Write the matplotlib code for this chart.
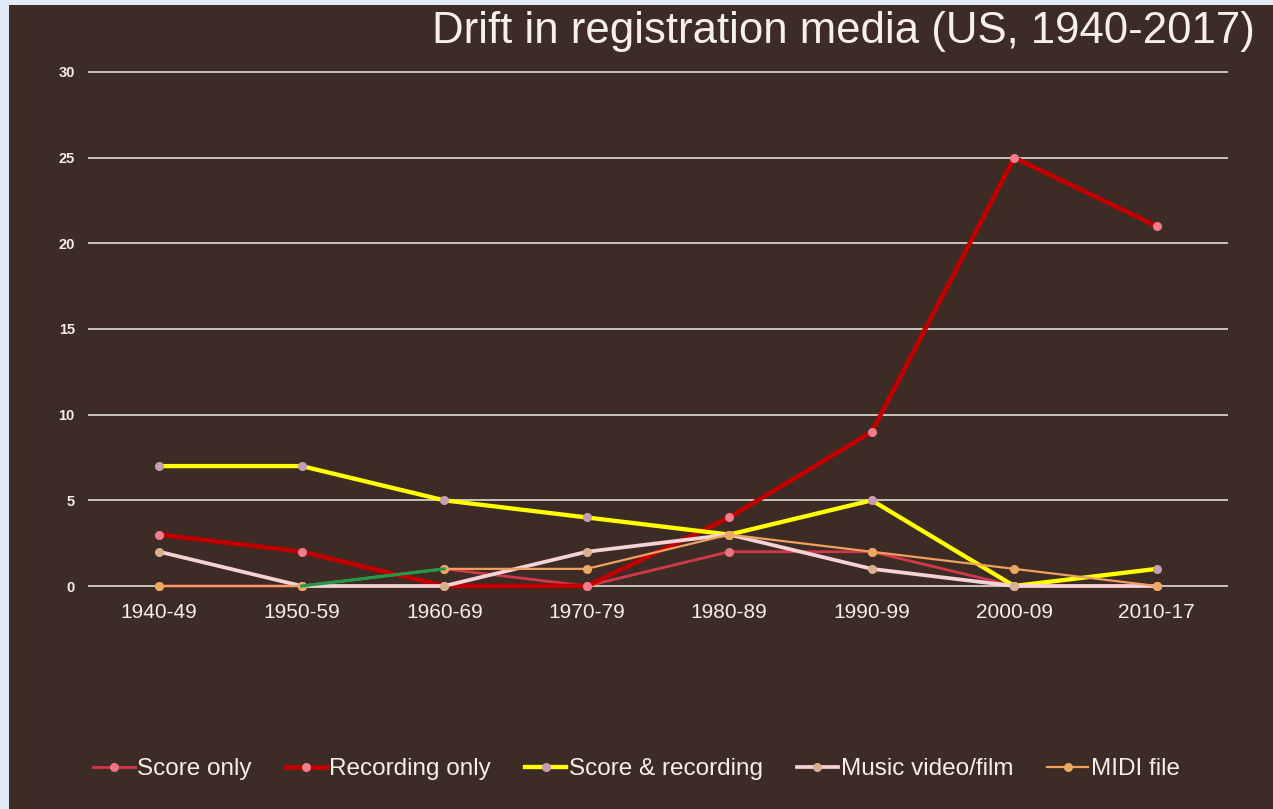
import matplotlib
matplotlib.use('Agg')
import matplotlib.pyplot as plt
from matplotlib.patches import Rectangle

# ---- data ----
decades = ['1940-49', '1950-59', '1960-69', '1970-79', '1980-89', '1990-99', '2000-09', '2010-17']
score_only = [0, 0, 1, 0, 2, 2, 0, 0]
recording_only = [3, 2, 0, 0, 4, 9, 25, 21]
score_and_recording = [7, 7, 5, 4, 3, 5, 0, 1]
music_video_film = [2, 0, 0, 2, 3, 1, 0, 0]
midi_file = [0, 0, 1, 1, 3, 2, 1, 0]
y_ticks = [0, 5, 10, 15, 20, 25, 30]
series_names = ['Score only', 'Recording only', 'Score & recording', 'Music video/film', 'MIDI file']
title = 'Drift in registration media (US, 1940-2017)'

plt.rcParams['font.family'] = ['Liberation Sans', 'DejaVu Sans']

W, H = 1273, 809
fig = plt.figure(figsize=(W / 100, H / 100), dpi=100, facecolor='#e4e9f9')
fig.patches.append(Rectangle((9 / W, 0), 1 - 9 / W, 1 - 5 / H, transform=fig.transFigure,
                             facecolor='#3c2c25', edgecolor='none', zorder=-10))

ax = fig.add_axes([88 / W, (H - 586) / H, 1140 / W, 514 / H])
ax.set_zorder(1)
ax.set_facecolor('none')
for s in ax.spines.values():
    s.set_visible(False)

x = list(range(len(decades)))
ax.set_xlim(-0.5, len(decades) - 0.5)
ax.set_ylim(0, 30)

ax.hlines(y_ticks, -0.5, len(decades) - 0.5, colors='#f0ece6', linewidth=1.1, clip_on=False, zorder=1)

styles = [
    dict(color='#d2384c', lw=2.0, mfc='#ea7482'),
    dict(color='#c00000', lw=3.4, mfc='#f07c8c'),
    dict(color='#ffff00', lw=3.1, mfc='#c89cb2'),
    dict(color='#f6d2d8', lw=2.7, mfc='#d8b090'),
    dict(color='#f0a060', lw=1.6, mfc='#eca862'),
]
data = [score_only, recording_only, score_and_recording, music_video_film, midi_file]
for i, (name, vals, st) in enumerate(zip(series_names, data, styles)):
    ax.plot(x, vals, color=st['color'], lw=st['lw'], marker='o', markersize=5.5,
            markerfacecolor=st['mfc'], markeredgecolor=st['mfc'], label=name,
            clip_on=False, zorder=3 + i, solid_joinstyle='round')
    if i == 0:
        ax.plot(x[1:3], vals[1:3], color='#1e9a48', lw=2.2, clip_on=False, zorder=9)

ax.set_xticks(x)
ax.set_xticklabels(decades, fontsize=15, color='#f4efe8')
ax.set_yticks(y_ticks)
ax.set_yticklabels([str(v) for v in y_ticks], fontsize=10.5, fontweight='bold', color='#f4efe8')
ax.tick_params(axis='x', length=0, pad=12)
ax.tick_params(axis='y', length=0, pad=9.5)

fig.text(1255 / W, 1 - 43 / H, title, ha='right', va='baseline', fontsize=31.5, color='#f5f0ea')

leg = fig.legend(loc='center', bbox_to_anchor=(0.5, (H - 769) / H), ncol=5, frameon=False,
                 fontsize=17.5, handlelength=1.7, handletextpad=0.1, columnspacing=1.4,
                 labelcolor='#f4efe8')

fig.savefig('out.png', dpi=100, facecolor=fig.get_facecolor())
